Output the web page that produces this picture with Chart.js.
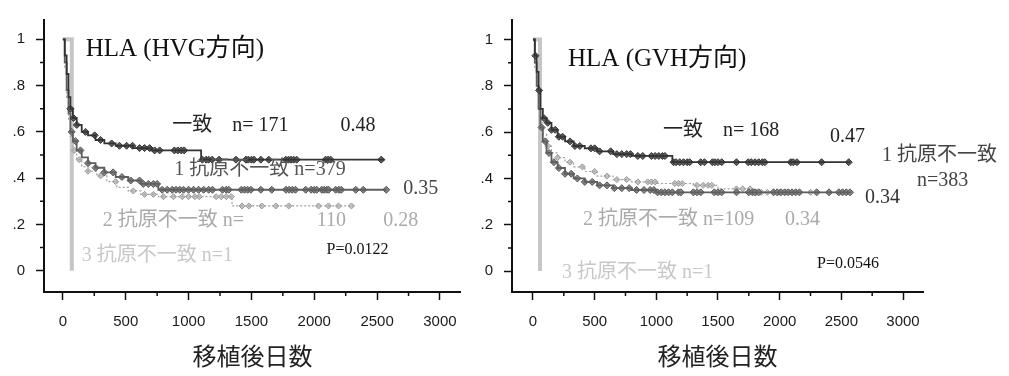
<!DOCTYPE html>
<html>
<head>
<meta charset="utf-8">
<script src="https://cdn.jsdelivr.net/npm/chart.js@4"></script>
<style>
  body { margin: 0; background: #fff; }
  #wrap { position: relative; width: 1009px; height: 376px; }
  canvas { position: absolute; top: 0; }
  #hvg { left: 0; }
  #gvh { left: 470px; }
</style>
</head>
<body>
<div id="wrap">
  <canvas id="hvg" width="470" height="376"></canvas>
  <canvas id="gvh" width="539" height="376"></canvas>
</div>
<script>
// axis ticks
const xMajorTicks = [0, 500, 1000, 1500, 2000, 2500, 3000];
const xTickLabels = ['0', '500', '1000', '1500', '2000', '2500', '3000'];
const xMinorTicks = [250, 750, 1250, 1750, 2250, 2750];
const yMajorTicks = [0, 0.2, 0.4, 0.6, 0.8, 1];
const yTickLabels = ['0', '.2', '.4', '.6', '.8', '1'];
const yMinorTicks = [0.1, 0.3, 0.5, 0.7, 0.9];

// HLA (HVG方向) : days after transplant / survival
const hvgMatchDays = [0, 15, 30, 45, 60, 80, 110, 150, 200, 260, 330, 420, 560, 700, 1100, 2560];
const hvgMatchSurv = [1, 0.93, 0.85, 0.75, 0.70, 0.66, 0.63, 0.60, 0.585, 0.565, 0.55, 0.54, 0.53, 0.52, 0.48, 0.48];
const hvgMatchCensor = [60, 85, 111, 180, 253, 300, 388, 450, 507, 554, 610, 650, 690, 730, 770, 887, 915, 942, 965, 1110, 1140, 1160, 1187, 1243, 1377, 1456, 1475, 1500, 1520, 1575, 1638, 1773, 1795, 1815, 1836, 1860, 2090, 2110, 2130, 2533];

const hvg1Days = [0, 15, 30, 45, 60, 80, 110, 150, 200, 260, 330, 420, 520, 620, 760, 2573];
const hvg1Surv = [1, 0.9, 0.78, 0.68, 0.6, 0.56, 0.52, 0.49, 0.465, 0.445, 0.425, 0.405, 0.39, 0.375, 0.35, 0.35];
const hvg1Censor = [70, 100, 140, 200, 260, 330, 400, 470, 540, 610, 640, 680, 720, 750, 790, 830, 870, 900, 930, 960, 1000, 1040, 1080, 1120, 1160, 1190, 1270, 1300, 1320, 1420, 1445, 1470, 1496, 1575, 1662, 1775, 1800, 1825, 1850, 1932, 1975, 2000, 2020, 2060, 2080, 2100, 2115, 2170, 2195, 2215, 2330, 2390, 2573];

const hvg2Days = [0, 15, 30, 45, 60, 80, 110, 150, 200, 270, 350, 430, 520, 620, 760, 1346, 2311];
const hvg2Surv = [1, 0.88, 0.75, 0.65, 0.58, 0.52, 0.48, 0.45, 0.43, 0.41, 0.385, 0.36, 0.345, 0.33, 0.32, 0.28, 0.28];
const hvg2Censor = [90, 130, 200, 300, 420, 560, 650, 720, 800, 880, 950, 1000, 1050, 1085, 1220, 1260, 1300, 1340, 1425, 1480, 1583, 1694, 1797, 2034, 2113, 2193, 2296];

const hvg3Days = [0, 71];
const hvg3Surv = [1, 0];

// HLA (GVH方向)
const gvhMatchDays = [0, 15, 30, 45, 60, 80, 110, 150, 200, 260, 330, 420, 520, 650, 800, 1130, 2570];
const gvhMatchSurv = [1, 0.93, 0.86, 0.78, 0.70, 0.66, 0.64, 0.61, 0.58, 0.56, 0.54, 0.53, 0.517, 0.505, 0.497, 0.47, 0.47];
const gvhMatchCensor = [20, 50, 90, 120, 150, 180, 210, 240, 300, 340, 380, 470, 500, 540, 630, 680, 720, 760, 790, 850, 890, 960, 990, 1020, 1050, 1070, 1140, 1160, 1190, 1220, 1250, 1270, 1360, 1390, 1455, 1475, 1500, 1530, 1650, 1745, 1770, 1800, 1830, 1860, 1880, 2090, 2110, 2140, 2340, 2560];

const gvh1Days = [0, 15, 30, 45, 60, 80, 110, 150, 200, 260, 330, 420, 520, 650, 800, 1000, 2580];
const gvh1Surv = [1, 0.9, 0.8, 0.7, 0.62, 0.56, 0.51, 0.47, 0.445, 0.42, 0.4, 0.385, 0.37, 0.358, 0.35, 0.34, 0.34];
const gvh1Censor = [70, 100, 130, 170, 210, 260, 310, 360, 420, 480, 540, 600, 660, 720, 780, 840, 900, 950, 980, 1010, 1040, 1070, 1100, 1130, 1180, 1200, 1300, 1330, 1360, 1470, 1500, 1530, 1650, 1750, 1780, 1800, 1830, 1950, 1980, 2010, 2040, 2070, 2100, 2130, 2160, 2300, 2400, 2480, 2510, 2540, 2570];

const gvh2Days = [0, 15, 30, 45, 60, 80, 110, 150, 200, 260, 330, 420, 520, 650, 800, 1000, 1300, 1500, 1800, 2250];
const gvh2Surv = [1, 0.88, 0.78, 0.7, 0.64, 0.59, 0.54, 0.51, 0.49, 0.47, 0.45, 0.43, 0.41, 0.395, 0.385, 0.378, 0.37, 0.355, 0.34, 0.34];
const gvh2Censor = [120, 200, 300, 400, 500, 600, 680, 760, 850, 930, 960, 990, 1150, 1180, 1210, 1330, 1380, 1420, 1450, 1650, 1700, 1760, 1810, 1850, 1900, 1950, 2000, 2050, 2100, 2250];

const gvh3Days = [0, 57];
const gvh3Surv = [1, 0];

const tickFont = "'Liberation Sans', Arial, sans-serif";
const textFont = "'Liberation Serif', 'Noto Sans CJK JP', serif";

function survAt(days, surv, t) {
  let s = surv[0];
  for (let i = 0; i < days.length; i++) {
    if (days[i] <= t) s = surv[i];
  }
  return s;
}

function curve(days, surv, color, width, dash) {
  return {
    type: 'line',
    data: days.map((d, i) => ({ x: d, y: surv[i] })),
    stepped: true,
    borderColor: color,
    borderWidth: width,
    borderDash: dash || [],
    pointRadius: 0,
    fill: false
  };
}

function censor(days, surv, marks, fill, edge, r) {
  return {
    type: 'line',
    data: marks.map(t => ({ x: t, y: survAt(days, surv, t) })),
    showLine: false,
    pointStyle: 'rectRot',
    pointRadius: r,
    backgroundColor: fill,
    borderColor: edge,
    borderWidth: 1
  };
}

function notes(items) {
  return {
    id: 'notes',
    afterDraw(chart) {
      const { ctx, scales } = chart;
      ctx.save();
      ctx.textBaseline = 'middle';
      ctx.textAlign = 'left';
      items.forEach(n => {
        ctx.font = n.size + 'px ' + textFont;
        ctx.fillStyle = n.color;
        ctx.fillText(n.text, scales.x.getPixelForValue(n.x), scales.y.getPixelForValue(n.y));
      });
      // short minor ticks
      const area = chart.chartArea;
      ctx.strokeStyle = '#111';
      ctx.lineWidth = 1.5;
      ctx.beginPath();
      xMinorTicks.forEach(v => {
        const px = scales.x.getPixelForValue(v);
        ctx.moveTo(px, area.bottom);
        ctx.lineTo(px, area.bottom + 4);
      });
      yMinorTicks.forEach(v => {
        const py = scales.y.getPixelForValue(v);
        ctx.moveTo(area.left, py);
        ctx.lineTo(area.left - 4, py);
      });
      ctx.stroke();
      ctx.restore();
    }
  };
}

function scaleOptions(xMin, xMax, yMin, yMax, yWidth) {
  return {
    x: {
      type: 'linear',
      min: xMin,
      max: xMax,
      afterBuildTicks: s => { s.ticks = xMajorTicks.map(v => ({ value: v })); },
      afterFit: s => { s.height = 84; },
      ticks: {
        autoSkip: false,
        maxRotation: 0,
        padding: 13,
        color: '#1a1a1a',
        font: { family: tickFont, size: 15 },
        callback: (v, i) => xTickLabels[i]
      },
      grid: { drawOnChartArea: false, tickLength: 8, tickColor: '#111', tickWidth: 1.5 },
      border: { color: '#111', width: 2 },
      title: {
        display: true,
        text: '移植後日数',
        color: '#222',
        font: { family: "'Noto Sans CJK JP', sans-serif", size: 24 },
        padding: { top: 0, bottom: 6 }
      }
    },
    y: {
      type: 'linear',
      min: yMin,
      max: yMax,
      afterBuildTicks: s => { s.ticks = yMajorTicks.map(v => ({ value: v })); },
      afterFit: s => { s.width = yWidth; },
      ticks: {
        autoSkip: false,
        padding: 11,
        color: '#1a1a1a',
        font: { family: tickFont, size: 15 },
        callback: (v, i) => yTickLabels[i]
      },
      grid: { drawOnChartArea: false, tickLength: 8, tickColor: '#111', tickWidth: 1.5 },
      border: { color: '#111', width: 2 }
    }
  };
}

const dark = '#333333', darkMark = '#5f5f5f';
const mid = '#5e5e5e', midMark = '#858585';
const light = '#a0a0a0', lightMark = '#c4c4c4';
const faint = '#c6c6c6';

new Chart(document.getElementById('hvg'), {
  type: 'line',
  data: {
    datasets: [
      curve(hvgMatchDays, hvgMatchSurv, dark, 1.8),
      censor(hvgMatchDays, hvgMatchSurv, hvgMatchCensor, darkMark, '#333', 3.5),
      curve(hvg1Days, hvg1Surv, mid, 1.8),
      censor(hvg1Days, hvg1Surv, hvg1Censor, midMark, '#555', 3.5),
      curve(hvg2Days, hvg2Surv, light, 1.2, [2, 2]),
      censor(hvg2Days, hvg2Surv, hvg2Censor, lightMark, '#999', 3),
      curve(hvg3Days, hvg3Surv, faint, 4)
    ]
  },
  options: {
    responsive: false,
    animation: false,
    layout: { padding: { top: 10, right: 7, left: 0, bottom: 0 } },
    scales: scaleOptions(-150, 3166, -0.0917, 1.0833, 44),
    plugins: { legend: { display: false }, tooltip: { enabled: false } }
  },
  plugins: [notes([
    { text: 'HLA (HVG方向)', x: 182, y: 0.955, size: 25, color: '#111' },
    { text: '一致　n= 171', x: 871, y: 0.625, size: 20, color: '#222' },
    { text: '0.48', x: 2208, y: 0.625, size: 20, color: '#222' },
    { text: '1 抗原不一致 n=379', x: 887, y: 0.435, size: 20, color: '#555' },
    { text: '0.35', x: 2707, y: 0.354, size: 20, color: '#444' },
    { text: '2 抗原不一致 n=', x: 317, y: 0.217, size: 20, color: '#aaa' },
    { text: '110', x: 2019, y: 0.217, size: 20, color: '#aaa' },
    { text: '0.28', x: 2549, y: 0.217, size: 20, color: '#aaa' },
    { text: 'P=0.0122', x: 2098, y: 0.092, size: 16, color: '#111' },
    { text: '3 抗原不一致 n=1', x: 150, y: 0.067, size: 20, color: '#c8c8c8' }
  ])]
});

new Chart(document.getElementById('gvh'), {
  type: 'line',
  data: {
    datasets: [
      curve(gvhMatchDays, gvhMatchSurv, dark, 1.8),
      censor(gvhMatchDays, gvhMatchSurv, gvhMatchCensor, darkMark, '#333', 3.5),
      curve(gvh1Days, gvh1Surv, mid, 1.8),
      censor(gvh1Days, gvh1Surv, gvh1Censor, midMark, '#555', 3.5),
      curve(gvh2Days, gvh2Surv, light, 1.2, [2, 2]),
      censor(gvh2Days, gvh2Surv, gvh2Censor, lightMark, '#999', 3),
      curve(gvh3Days, gvh3Surv, faint, 4)
    ]
  },
  options: {
    responsive: false,
    animation: false,
    layout: { padding: { top: 13, right: 86, left: 0, bottom: 0 } },
    scales: scaleOptions(-170, 3162, -0.0905, 1.0842, 42),
    plugins: { legend: { display: false }, tooltip: { enabled: false } }
  },
  plugins: [notes([
    { text: 'HLA (GVH方向)', x: 284, y: 0.916, size: 25, color: '#111' },
    { text: '一致　n= 168', x: 1054, y: 0.604, size: 20, color: '#222' },
    { text: '0.47', x: 2408, y: 0.579, size: 20, color: '#222' },
    { text: '1 抗原不一致', x: 2830, y: 0.499, size: 20, color: '#444' },
    { text: 'n=383', x: 3114, y: 0.389, size: 20, color: '#444' },
    { text: '0.34', x: 2692, y: 0.318, size: 20, color: '#333' },
    { text: '2 抗原不一致 n=109', x: 405, y: 0.221, size: 20, color: '#aaa' },
    { text: '0.34', x: 2043, y: 0.221, size: 20, color: '#aaa' },
    { text: 'P=0.0546', x: 2303, y: 0.032, size: 16, color: '#111' },
    { text: '3 抗原不一致 n=1', x: 235, y: -0.006, size: 20, color: '#c8c8c8' }
  ])]
});
</script>
</body>
</html>
